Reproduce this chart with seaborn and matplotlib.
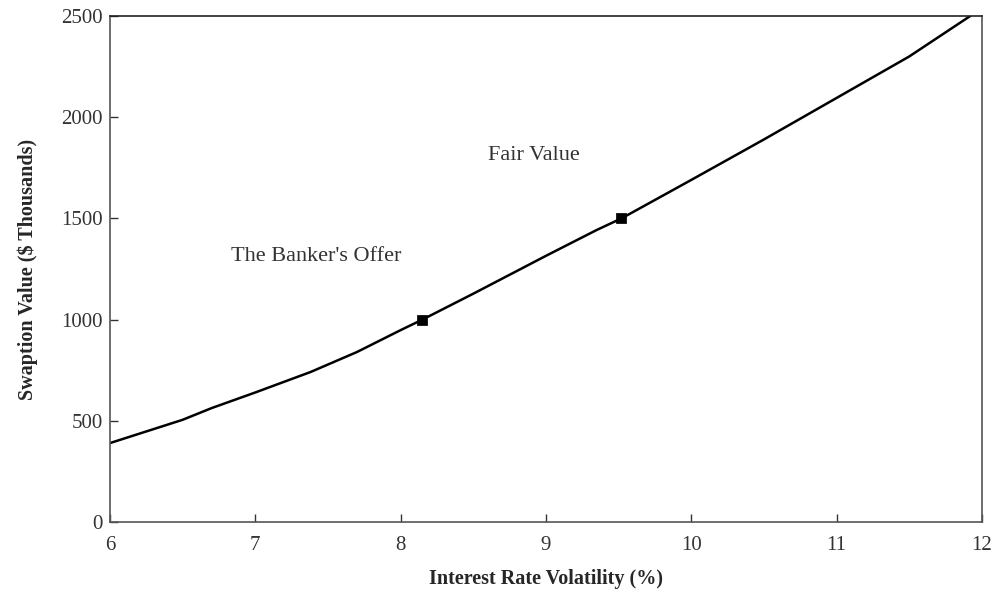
import numpy as np
import pandas as pd
import matplotlib.pyplot as plt
import seaborn as sns

# ---------- data ----------
volatility = [6.0, 6.5, 6.7, 7.0, 7.38, 7.7, 8.0, 8.15, 8.5, 9.0, 9.35, 9.52, 10.0, 10.5, 11.0, 11.5, 11.92]
swaption_value = [390, 505, 563, 640, 741, 840, 948, 1000, 1128, 1315, 1443, 1500, 1690, 1890, 2095, 2300, 2500]

point_vol = [8.15, 9.52]
point_value = [1000, 1500]

x_ticks = [6, 7, 8, 9, 10, 11, 12]
y_ticks = [0, 500, 1000, 1500, 2000, 2500]

df = pd.DataFrame({"vol": volatility, "value": swaption_value})
pts = pd.DataFrame({"vol": point_vol, "value": point_value})

sns.set_style("white")
plt.rcParams['font.family'] = ['Liberation Serif', 'DejaVu Serif']

fig = plt.figure(figsize=(10.06, 5.93), dpi=100)
ax = fig.add_axes([0.1093, 0.1197, 0.8667, 0.8533])

sns.lineplot(data=df, x="vol", y="value", color="black", linewidth=1.8, ax=ax)
sns.scatterplot(data=pts, x="vol", y="value", marker="s", s=45, color="black",
                edgecolor="black", ax=ax, zorder=5)

ax.text(8.92, 1813, "Fair Value", ha="center", va="center", fontsize=16, color="#333333")
ax.text(7.42, 1314, "The Banker's Offer", ha="center", va="center", fontsize=16, color="#333333")

ax.set_xlim(6, 12)
ax.set_ylim(0, 2500)
ax.set_xticks(x_ticks)
ax.set_yticks(y_ticks)
ax.tick_params(bottom=True, left=True, direction="in", length=6, width=1,
               labelsize=15, colors="#333333")
ax.tick_params(axis="x", pad=10)
ax.tick_params(axis="y", pad=5)

for s in ax.spines.values():
    s.set_color("#555555")
    s.set_linewidth(1.2)
ax.spines["top"].set_color("#222222")

ax.set_xlabel("Interest Rate Volatility (%)", fontsize=14.5, fontweight="bold", labelpad=10)
ax.set_ylabel("Swaption Value ($ Thousands)", fontsize=14.5, fontweight="bold", labelpad=17)

plt.savefig("out.png", dpi=100)
